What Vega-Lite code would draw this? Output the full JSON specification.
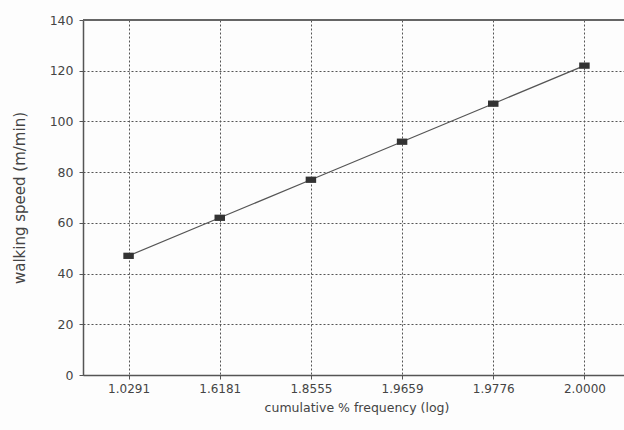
{
  "$schema": "https://vega.github.io/schema/vega-lite/v6.json",
  "autosize": "none",
  "width": 547,
  "height": 355,
  "padding": {"left": 83, "top": 20, "right": 0, "bottom": 55},
  "background": "#fdfdfd",
  "config": {
    "view": {"stroke": null},
    "font": "DejaVu Sans"
  },
  "data": {
    "values": [
      {"freq": "1.0291", "speed": 47},
      {"freq": "1.6181", "speed": 62},
      {"freq": "1.8555", "speed": 77},
      {"freq": "1.9659", "speed": 92},
      {"freq": "1.9776", "speed": 107},
      {"freq": "2.0000", "speed": 122}
    ]
  },
  "encoding": {
    "x": {
      "field": "freq", "type": "ordinal", "sort": null,
      "scale": {"type": "point", "padding": 0.5},
      "axis": {
        "title": "cumulative % frequency (log)",
        "titleFont": "DejaVu Sans", "titleFontSize": 12.5, "titleFontWeight": "normal", "titleColor": "#444",
        "titlePadding": 7,
        "labelFont": "DejaVu Sans", "labelFontSize": 12, "labelColor": "#444", "labelAngle": 0, "labelPadding": 4,
        "domainColor": "#555", "domainWidth": 1.5,
        "tickColor": "#555", "tickSize": 4,
        "grid": true, "gridColor": "#555", "gridDash": [2, 2], "gridWidth": 1
      }
    },
    "y": {
      "field": "speed", "type": "quantitative",
      "scale": {"domain": [0, 140], "nice": false},
      "axis": {
        "title": "walking speed (m/min)",
        "titleFont": "DejaVu Sans", "titleFontSize": 15, "titleFontWeight": "normal", "titleColor": "#444",
        "titlePadding": 22,
        "values": [0, 20, 40, 60, 80, 100, 120, 140],
        "labelFont": "DejaVu Sans", "labelFontSize": 12.5, "labelColor": "#444", "labelPadding": 6,
        "domainColor": "#555", "domainWidth": 1.5,
        "tickColor": "#555", "tickSize": 4,
        "grid": true, "gridColor": "#555", "gridDash": [2, 2], "gridWidth": 1
      }
    }
  },
  "layer": [
    {
      "mark": {"type": "rule", "color": "#666", "strokeWidth": 1.5},
      "encoding": {"y": {"datum": 140}, "x": null}
    },
    {
      "mark": {"type": "line", "color": "#555", "strokeWidth": 1.2}
    },
    {
      "mark": {"type": "point", "shape": "M-1,-0.6H1V0.6H-1Z", "size": 110, "filled": true, "color": "#333", "opacity": 1}
    }
  ]
}
